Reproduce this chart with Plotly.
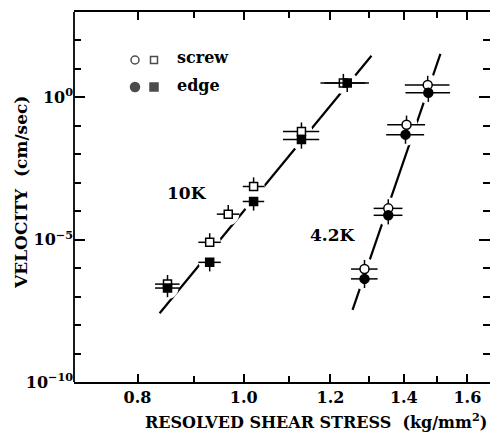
import plotly.graph_objects as go
import numpy as np

# ---------------- data ----------------
# 10 K  (squares)
k10_screw_x = [0.852, 0.931, 0.968, 1.021, 1.129, 1.233]
k10_screw_v = [2.75e-7, 8.1e-6, 7.9e-5, 7.4e-4, 6.3e-2, 3.2]
k10_screw_xerr = [0.022, 0.022, 0.023, 0.023, 0.043, 0.058]
k10_edge_x = [0.852, 0.931, 1.021, 1.129, 1.243]
k10_edge_v = [2.0e-7, 1.6e-6, 2.2e-4, 3.3e-2, 3.2]
k10_edge_xerr = [0.022, 0.022, 0.023, 0.043, 0.058]
k10_fit_x = [0.838, 1.308]
k10_fit_v = [2.6e-8, 29.0]

# 4.2 K  (circles)
k42_screw_x = [1.289, 1.355, 1.408, 1.472]
k42_screw_v = [9.3e-7, 1.26e-4, 0.11, 2.75]
k42_edge_x = [1.289, 1.355, 1.405, 1.474]
k42_edge_v = [4.2e-7, 7.2e-5, 0.049, 1.45]
k42_xerr = [0.036, 0.041, 0.056, 0.069]
k42_fit_x = [1.257, 1.512]
k42_fit_v = [3.4e-8, 34.0]

y_err_decades = 0.32

x_major = [0.8, 1.0, 1.2, 1.4, 1.6]
x_major_text = ["0.8", "1.0", "1.2", "1.4", "1.6"]
x_minor = [0.9, 1.1, 1.3, 1.5]
y_major = [1e-10, 1e-5, 1e0]
y_major_text = ["10<sup>−10</sup>", "10<sup>−5</sup>", "10<sup>0</sup>"]
y_minor = [10.0 ** e for e in range(-9, 3) if e not in (-5, 0)]

FONT = "DejaVu Serif"
BLACK = "black"

fig = go.Figure()

# fit lines
for fx, fv in [(k10_fit_x, k10_fit_v), (k42_fit_x, k42_fit_v)]:
    fig.add_trace(go.Scatter(x=fx, y=fv, mode="lines",
                             line=dict(color=BLACK, width=2.2),
                             hoverinfo="skip", showlegend=False))

# white halos that break the lines around the data points
halo_x = k10_screw_x + k10_edge_x + k42_screw_x + k42_edge_x
halo_v = k10_screw_v + k10_edge_v + k42_screw_v + k42_edge_v
fig.add_trace(go.Scatter(x=halo_x, y=halo_v, mode="markers",
                         marker=dict(symbol="circle", size=22, color="white",
                                     line=dict(width=0)),
                         hoverinfo="skip", showlegend=False))


def up(v):
    return [a * (10 ** y_err_decades - 1) for a in v]


def down(v):
    return [a * (1 - 10 ** (-y_err_decades)) for a in v]


def series(x, v, xerr, symbol, filled, screw):
    ey = dict(type="data", symmetric=False,
              array=up(v) if screw else [0] * len(v),
              arrayminus=[0] * len(v) if screw else down(v),
              color=BLACK, thickness=1.5, width=0)
    fig.add_trace(go.Scatter(
        x=x, y=v, mode="markers",
        marker=dict(symbol=symbol, size=9 if symbol == "circle" else 8,
                    color=BLACK if filled else "white",
                    line=dict(color=BLACK, width=1.5)),
        error_x=dict(type="data", array=xerr, color=BLACK, thickness=1.5, width=0),
        error_y=ey, showlegend=False))


series(k10_screw_x, k10_screw_v, k10_screw_xerr, "square", False, True)
series(k10_edge_x, k10_edge_v, k10_edge_xerr, "square", True, False)
series(k42_screw_x, k42_screw_v, k42_xerr, "circle", False, True)
series(k42_edge_x, k42_edge_v, k42_xerr, "circle", True, False)

# legend glyphs on an overlay axis measured in pixels of the plot area
leg_x = [135, 154, 135, 154]
leg_y = [60, 60, 87, 87]
fig.add_trace(go.Scatter(
    x=leg_x, y=leg_y, xaxis="x2", yaxis="y2", mode="markers",
    marker=dict(symbol=["circle", "square", "circle", "square"],
                size=[8, 7, 9, 8],
                color=["white", "white", BLACK, BLACK],
                line=dict(color=BLACK, width=1.5)),
    hoverinfo="skip", showlegend=False))

W, H = 490, 433
L, R, T, B = 74, 0, 12, 51

fig.update_layout(
    width=W, height=H,
    margin=dict(l=L, r=R, t=T, b=B),
    paper_bgcolor="white", plot_bgcolor="white",
    font=dict(family=FONT, color=BLACK, size=15, weight="bold"),
    xaxis=dict(type="log", range=[np.log10(0.7), np.log10(1.678)],
               tickmode="array", tickvals=x_major, ticktext=x_major_text,
               ticks="inside", ticklen=8, tickwidth=1.5, tickcolor=BLACK,
               showline=True, linecolor=BLACK, linewidth=1.8, mirror="ticks",
               showgrid=False, zeroline=False,
               tickfont=dict(family=FONT, size=16, weight="bold"),
               minor=dict(tickmode="array", tickvals=x_minor, ticks="inside",
                          ticklen=6, tickwidth=1.5, tickcolor=BLACK, showgrid=False)),
    yaxis=dict(type="log", range=[-10, 3],
               tickmode="array", tickvals=y_major, ticktext=y_major_text,
               ticks="inside", ticklen=11, tickwidth=1.5, tickcolor=BLACK,
               showline=False, mirror="ticks",
               showgrid=False, zeroline=False,
               tickfont=dict(family=FONT, size=16, weight="bold"),
               minor=dict(tickmode="array", tickvals=y_minor, ticks="inside",
                          ticklen=7, tickwidth=1.5, tickcolor=BLACK, showgrid=False)),
    xaxis2=dict(overlaying="x", range=[L, W - R], visible=False, fixedrange=True),
    yaxis2=dict(overlaying="y", range=[H - B, T], visible=False, fixedrange=True),
    showlegend=False,
    shapes=[dict(type="line", xref="paper", yref="paper", x0=0, x1=0, y0=0, y1=1,
                 line=dict(color=BLACK, width=1.8), layer="above")],
)


def px_x(p):
    return (p - L) / (W - L - R)


def px_y(p):
    return (H - B - p) / (H - B - T)


annos = [
    dict(text="screw", x=px_x(175), y=px_y(58), xanchor="left", yanchor="middle", size=16),
    dict(text="edge", x=px_x(175), y=px_y(85), xanchor="left", yanchor="middle", size=16),
    dict(text="10K", x=px_x(187), y=px_y(193), xanchor="center", yanchor="middle", size=17),
    dict(text="4.2K", x=px_x(333), y=px_y(235), xanchor="center", yanchor="middle", size=17),
]
for a in annos:
    fig.add_annotation(text=a["text"], x=a["x"], y=a["y"], xref="paper", yref="paper",
                       xanchor=a["xanchor"], yanchor=a["yanchor"], showarrow=False,
                       font=dict(family=FONT, size=a["size"], color=BLACK, weight="bold"))

# axis titles
fig.add_annotation(text="RESOLVED SHEAR STRESS  (kg/mm<sup>2</sup>)",
                   x=px_x(316), y=px_y(421), xref="paper", yref="paper",
                   xanchor="center", yanchor="middle", showarrow=False,
                   font=dict(family=FONT, size=16, color=BLACK, weight="bold"))
fig.add_annotation(text="VELOCITY  (cm/sec)", textangle=-90,
                   x=px_x(21), y=px_y(193), xref="paper", yref="paper",
                   xanchor="center", yanchor="middle", showarrow=False,
                   font=dict(family=FONT, size=17, color=BLACK, weight="bold"))

fig.write_html("out.html")
